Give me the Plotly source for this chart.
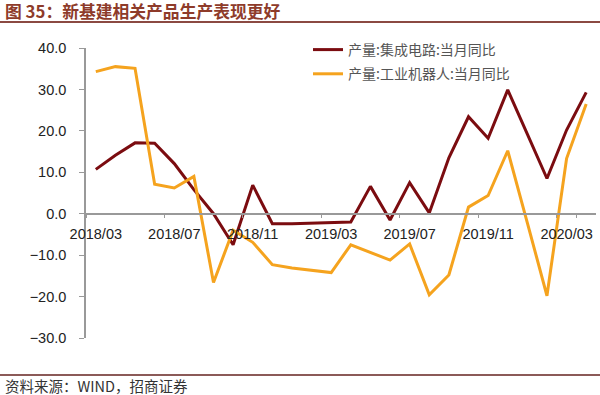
import plotly.graph_objects as go

months = ["2018/03", "2018/04", "2018/05", "2018/06", "2018/07", "2018/08", "2018/09",
          "2018/10", "2018/11", "2018/12", "2019/01", "2019/02", "2019/03", "2019/04",
          "2019/05", "2019/06", "2019/07", "2019/08", "2019/09", "2019/10", "2019/11",
          "2019/12", "2020/01", "2020/02", "2020/03", "2020/04"]

ic_yoy = [10.7, 14.1, 17.1, 17.0, 12.1, 5.8, 0.0, -7.5, 6.9, -2.4, -2.4, -2.3, -2.2,
          -2.0, 6.6, -1.5, 7.5, 0.2, 13.5, 23.4, 18.2, 29.9, 19.2, 8.5, 20.2, 29.3]

robot_yoy = [34.3, 35.5, 35.1, 7.1, 6.2, 9.0, -16.6, -4.0, -6.9, -12.3, -13.1, -13.6, -14.2,
             -7.5, -9.3, -11.2, -7.3, -19.6, -14.8, 1.6, 4.4, 15.2, -2.2, -19.8, 13.3, 26.5]

series_names = ["产量:集成电路:当月同比", "产量:工业机器人:当月同比"]
tick_labels = ["2018/03", "2018/07", "2018/11", "2019/03", "2019/07", "2019/11", "2020/03"]
y_ticks = [-30, -20, -10, 0, 10, 20, 30, 40]

title_text = "图 35：新基建相关产品生产表现更好"
source_text = "资料来源：WIND，招商证券"

W, H = 600, 395
L, R, T, B = 86, 4, 48, 57
pw, ph = W - L - R, H - T - B

def px_x(p):
    return (p - L) / pw

def px_y(p):
    return (H - B - p) / ph

fig = go.Figure()
fig.add_trace(go.Scatter(x=months, y=ic_yoy, mode="lines", name=series_names[0],
                         line=dict(color="#7B0C10", width=3), legendgroup="a"))
fig.add_trace(go.Scatter(x=months, y=robot_yoy, mode="lines", name=series_names[1],
                         line=dict(color="#F5A31E", width=3), legendgroup="b"))

ymin, ymax = -30, 40

fig.update_layout(
    width=W, height=H,
    margin=dict(l=L, r=R, t=T, b=B, autoexpand=False),
    plot_bgcolor="white", paper_bgcolor="white",
    font=dict(family="Liberation Sans, Arial, sans-serif", color="#222222"),
    showlegend=True,
    legend=dict(x=px_x(308), y=px_y(34), xanchor="left", yanchor="top",
                bgcolor="rgba(0,0,0,0)", tracegroupgap=3,
                font=dict(family="Noto Sans CJK SC", size=14, color="#555555")),
    xaxis=dict(type="category", range=[-0.5, len(months) - 0.5],
               tickmode="array", tickvals=tick_labels, ticktext=tick_labels,
               tickson="boundaries", ticks="outside", ticklen=4, tickcolor="#999999",
               showline=True, linecolor="#999999", linewidth=1.5,
               showgrid=False, zeroline=False, tickangle=0, automargin=False,
               anchor="free", position=(0 - ymin) / (ymax - ymin),
               tickfont=dict(size=14.5, color="#222222"), ticklabelstandoff=7),
    yaxis=dict(range=[ymin, ymax], tickmode="array", tickvals=y_ticks,
               tickformat=".1f", ticks="outside", ticklen=5, tickcolor="#999999",
               showline=True, linecolor="#999999", linewidth=1.5,
               showgrid=False, zeroline=False, automargin=False,
               tickfont=dict(size=14.5, color="#222222"), ticklabelstandoff=10),
)

fig.add_shape(type="line", xref="paper", yref="paper",
              x0=px_x(0), x1=px_x(600), y0=px_y(22), y1=px_y(22),
              line=dict(color="#8B4A42", width=2))
fig.add_shape(type="line", xref="paper", yref="paper",
              x0=px_x(0), x1=px_x(600), y0=px_y(375), y1=px_y(375),
              line=dict(color="#8B5A58", width=2))

fig.add_annotation(text=title_text, xref="paper", yref="paper",
                   x=px_x(3), y=px_y(11), xanchor="left", yanchor="middle",
                   showarrow=False,
                   font=dict(family="Noto Sans CJK SC", size=16.8, color="#8E3B2A", weight="bold"))
fig.add_annotation(text=source_text, xref="paper", yref="paper",
                   x=px_x(3), y=px_y(386), xanchor="left", yanchor="middle",
                   showarrow=False,
                   font=dict(family="Noto Sans CJK SC", size=14.5, color="#333333"))

fig.write_html("out.html", config={"displayModeBar": False},
               post_script="document.body.style.margin='0';document.body.style.overflow='hidden';")
